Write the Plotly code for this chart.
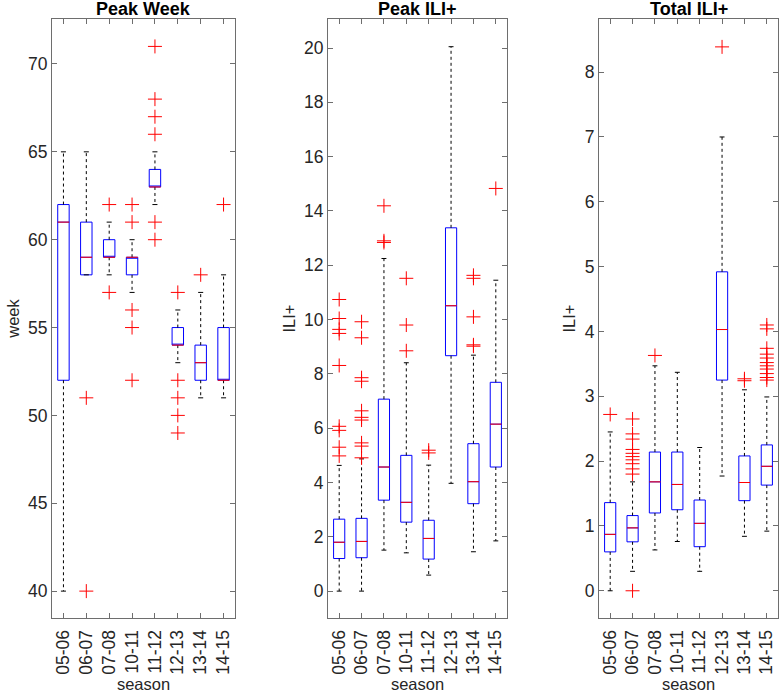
import plotly.graph_objects as go

seasons = ["05-06", "06-07", "07-08", "10-11", "11-12", "12-13", "13-14", "14-15"]

# ---- Peak Week ----
pw_q1 = [52, 58, 59, 58, 63, 54, 52, 52]
pw_med = [61, 59, 59, 59, 63, 54, 53, 52]
pw_q3 = [62, 61, 60, 59, 64, 55, 54, 55]
pw_lo = [40, 58, 58, 57, 62, 53, 51, 51]
pw_hi = [65, 65, 61, 60, 65, 56, 57, 58]
pw_out = [
    [],
    [51, 40],
    [62, 57],
    [62, 61, 56, 55, 52],
    [71, 68, 67, 66, 61, 60],
    [57, 52, 51, 50, 49],
    [58],
    [62],
]

# ---- Peak ILI+ ----
pi_q1 = [1.20, 1.23, 3.35, 2.54, 1.18, 8.67, 3.22, 4.57]
pi_med = [1.80, 1.83, 4.57, 3.27, 1.94, 10.51, 4.03, 6.15]
pi_q3 = [2.65, 2.68, 7.07, 5.00, 2.61, 13.38, 5.43, 7.69]
pi_lo = [0.0, 0.0, 1.51, 1.41, 0.59, 3.97, 1.45, 1.85]
pi_hi = [4.63, 4.87, 12.25, 8.41, 4.64, 20.05, 8.69, 11.45]
pi_out = [
    [10.74, 10.04, 9.64, 9.49, 8.31, 6.07, 5.92, 5.30, 4.98],
    [9.92, 9.33, 7.86, 7.73, 6.64, 6.40, 6.30, 5.46, 5.34, 4.91],
    [14.19, 12.90, 12.84],
    [11.52, 9.80, 8.85],
    [5.19, 5.09],
    [],
    [11.63, 11.52, 10.10, 9.07, 9.02],
    [14.83],
]

# ---- Total ILI+ ----
ti_q1 = [0.60, 0.755, 1.20, 1.25, 0.68, 3.25, 1.39, 1.63]
ti_med = [0.87, 0.97, 1.68, 1.64, 1.04, 4.03, 1.67, 1.92]
ti_q3 = [1.36, 1.16, 2.14, 2.14, 1.40, 4.92, 2.08, 2.25]
ti_lo = [0.0, 0.30, 0.63, 0.76, 0.30, 1.77, 0.84, 0.92]
ti_hi = [2.45, 1.68, 3.47, 3.37, 2.21, 7.00, 3.10, 2.99]
ti_out = [
    [2.72],
    [2.65, 2.42, 2.34, 2.18, 2.12, 2.07, 2.02, 1.96, 1.88, 1.80, 0.0],
    [3.63],
    [],
    [],
    [8.39],
    [3.27, 3.24],
    [4.10, 4.04, 3.74, 3.65, 3.59, 3.52, 3.47, 3.42, 3.35, 3.29, 3.25],
]

panels = [
    dict(title="Peak Week", ylab="week", q1=pw_q1, med=pw_med, q3=pw_q3, lo=pw_lo, hi=pw_hi,
         out=pw_out, yrange=[38.47, 72.56], ticks=list(range(40, 71, 5))),
    dict(title="Peak ILI+", ylab="ILI+", q1=pi_q1, med=pi_med, q3=pi_q3, lo=pi_lo, hi=pi_hi,
         out=pi_out, yrange=[-0.99, 21.07], ticks=list(range(0, 21, 2))),
    dict(title="Total ILI+", ylab="ILI+", q1=ti_q1, med=ti_med, q3=ti_q3, lo=ti_lo, hi=ti_hi,
         out=ti_out, yrange=[-0.42, 8.82], ticks=list(range(0, 9, 1))),
]

W, H = 781, 695
ML, MR, MT, MB = 52, 3, 19, 77
PW = W - ML - MR
xdoms = [(52, 235), (328, 507), (599, 778)]

FONT = "Liberation Sans, Arial, Helvetica, sans-serif"
AXC = "#6e6e6e"
TXC = "#262626"

fig = go.Figure()
pos = list(range(1, len(seasons) + 1))
half = 0.25
cap = 0.11

for k, p in enumerate(panels):
    xa = "x" if k == 0 else f"x{k+1}"
    ya = "y" if k == 0 else f"y{k+1}"
    # whiskers
    wx, wy = [], []
    for i, x in enumerate(pos):
        wx += [x, x, None, x, x, None]
        wy += [p["q3"][i], p["hi"][i], None, p["q1"][i], p["lo"][i], None]
    fig.add_trace(go.Scatter(x=wx, y=wy, mode="lines", xaxis=xa, yaxis=ya,
                             line=dict(color="black", width=1, dash="3px,3px"),
                             hoverinfo="skip", showlegend=False))
    # caps
    cx, cy = [], []
    for i, x in enumerate(pos):
        cx += [x - cap, x + cap, None, x - cap, x + cap, None]
        cy += [p["hi"][i], p["hi"][i], None, p["lo"][i], p["lo"][i], None]
    fig.add_trace(go.Scatter(x=cx, y=cy, mode="lines", xaxis=xa, yaxis=ya,
                             line=dict(color="black", width=1),
                             hoverinfo="skip", showlegend=False))
    # boxes
    fig.add_trace(go.Box(x=pos, q1=p["q1"], median=p["med"], q3=p["q3"],
                         lowerfence=p["q1"], upperfence=p["q3"], width=0.5,
                         whiskerwidth=0, xaxis=xa, yaxis=ya,
                         line=dict(color="#0000ff", width=1), fillcolor="rgba(0,0,0,0)",
                         boxpoints=False, hoverinfo="skip", showlegend=False))
    # medians
    mx, my = [], []
    for i, x in enumerate(pos):
        mx += [x - half, x + half, None]
        my += [p["med"][i], p["med"][i], None]
    fig.add_trace(go.Scatter(x=mx, y=my, mode="lines", xaxis=xa, yaxis=ya,
                             line=dict(color="#ff0000", width=1),
                             hoverinfo="skip", showlegend=False))
    # outliers
    ox, oy = [], []
    for i, x in enumerate(pos):
        for v in p["out"][i]:
            ox.append(x)
            oy.append(v)
    fig.add_trace(go.Scatter(x=ox, y=oy, mode="markers", xaxis=xa, yaxis=ya,
                             marker=dict(symbol="cross-thin", size=10,
                                         line=dict(color="#ff0000", width=1)),
                             hoverinfo="skip", showlegend=False))

    x0, x1 = xdoms[k]
    axkey = "xaxis" if k == 0 else f"xaxis{k+1}"
    aykey = "yaxis" if k == 0 else f"yaxis{k+1}"
    fig.layout[axkey] = dict(
        domain=[(x0 - ML) / PW, min(1.0, (x1 - ML) / PW)], anchor=ya, range=[0.5, 8.5],
        tickvals=pos, ticktext=seasons, tickangle=-90, automargin=False,
        ticks="inside", ticklen=5, tickcolor=AXC, mirror="ticks", ticklabelstandoff=4,
        showline=True, linecolor=AXC, linewidth=1, showgrid=False, zeroline=False,
        tickfont=dict(family=FONT, size=17.5, color=TXC),
        title=dict(text="season", font=dict(family=FONT, size=16.5, color=TXC), standoff=3),
    )
    fig.layout[aykey] = dict(
        domain=[0, 1], anchor=xa, range=p["yrange"], automargin=False,
        tickvals=p["ticks"], ticks="inside", ticklen=5, tickcolor=AXC, mirror="ticks",
        showline=True, linecolor=AXC, linewidth=1, showgrid=False, zeroline=False,
        tickfont=dict(family=FONT, size=17.5, color=TXC),
        title=dict(text=p["ylab"], font=dict(family=FONT, size=16.5, color=TXC), standoff=4),
    )
    fig.add_annotation(text="<b>" + p["title"] + "</b>", xref="paper", yref="paper",
                       x=((x0 + x1) / 2 - ML) / PW, y=1 + 10 / (H - MT - MB),
                       xanchor="center", yanchor="middle",
                       showarrow=False, font=dict(family=FONT, size=18, color="black"))

fig.update_layout(width=W, height=H, margin=dict(l=ML, r=MR, t=MT, b=MB, autoexpand=False),
                  paper_bgcolor="white", plot_bgcolor="white", showlegend=False)

fig.write_html("out.html", config={"displayModeBar": False},
               post_script="document.body.style.margin='0px';document.body.style.overflow='hidden';")
